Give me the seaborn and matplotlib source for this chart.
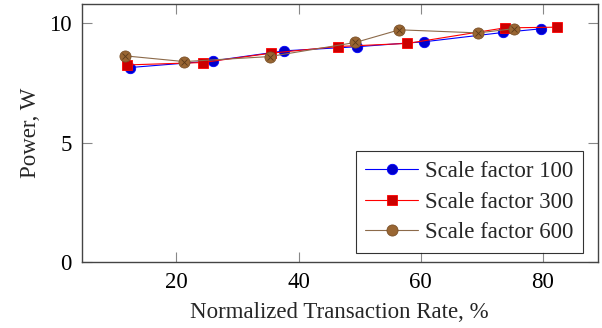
import matplotlib
matplotlib.use("Agg")
import matplotlib.pyplot as plt
import seaborn as sns
import pandas as pd

# Measured power draw versus normalized transaction rate
rate_100 = [12.4, 26.0, 37.7, 49.5, 60.6, 73.5, 79.6]
power_100 = [8.14, 8.42, 8.84, 9.01, 9.22, 9.61, 9.76]

rate_300 = [12.0, 24.3, 35.5, 46.4, 57.8, 73.7, 82.3]
power_300 = [8.25, 8.35, 8.74, 9.02, 9.15, 9.80, 9.83]

rate_600 = [11.6, 21.3, 35.3, 49.3, 56.5, 69.4, 75.3]
power_600 = [8.63, 8.39, 8.60, 9.19, 9.72, 9.59, 9.77]

labels = ["Scale factor 100", "Scale factor 300", "Scale factor 600"]
x_ticks = [20, 40, 60, 80]
y_ticks = [0, 5, 10]

frames = []
for lab, xs, ys in zip(labels, [rate_100, rate_300, rate_600],
                       [power_100, power_300, power_600]):
    frames.append(pd.DataFrame({"rate": xs, "power": ys, "series": lab}))
df = pd.concat(frames, ignore_index=True)

sns.set_theme(style="ticks")
plt.rcParams["font.family"] = ["Liberation Serif", "DejaVu Serif"]

FS = 16.5

fig = plt.figure(figsize=(6.02, 3.28), dpi=100)
ax = fig.add_axes([0.1354, 0.2012, 0.858, 0.7866])

styles = {
    "Scale factor 100": dict(color="#0000ff", marker="o", mfc="#0000cc", mec="#0000ff", ms=7.5),
    "Scale factor 300": dict(color="#ff0000", marker="s", mfc="#cc0000", mec="#ff0000", ms=7.5),
    "Scale factor 600": dict(color="#8c6a4a", marker="o", mfc="#996633", mec="#7a5028", ms=8),
}

for lab in labels:
    st = styles[lab]
    sub = df[df["series"] == lab]
    sns.lineplot(data=sub, x="rate", y="power", ax=ax, color=st["color"],
                 lw=0.8, marker=st["marker"], markersize=st["ms"],
                 markerfacecolor=st["mfc"], markeredgecolor=st["mec"],
                 markeredgewidth=0.6, label=lab, sort=False)

# cross inside the brown markers
sub = df[df["series"] == "Scale factor 600"]
ax.plot(sub["rate"], sub["power"], ls="none", marker="x", ms=4.5,
        mec="#5a3a1a", mew=0.6, zorder=5)

ax.set_xlim(4.5, 89)
ax.set_ylim(0, 10.8)
ax.set_xticks(x_ticks)
ax.set_yticks(y_ticks)
ax.tick_params(direction="in", length=7, width=0.8, color="#888888",
               top=True, right=True, labelsize=FS, labelcolor="black", pad=7)
for sp in ax.spines.values():
    sp.set_color("#444444")
    sp.set_linewidth(1.0)

ax.set_xlabel("Normalized Transaction Rate, %", fontsize=FS, labelpad=7)
ax.set_ylabel("Power, W", fontsize=FS, labelpad=6)

leg = ax.legend(loc="lower right", bbox_to_anchor=(0.971, 0.035),
                borderaxespad=0, fontsize=FS, frameon=True, fancybox=False,
                handlelength=2.3, handletextpad=0.3, labelspacing=0.42,
                borderpad=0.42)
leg.get_frame().set_edgecolor("black")
leg.get_frame().set_linewidth(0.8)

fig.savefig("out.png", dpi=100)
